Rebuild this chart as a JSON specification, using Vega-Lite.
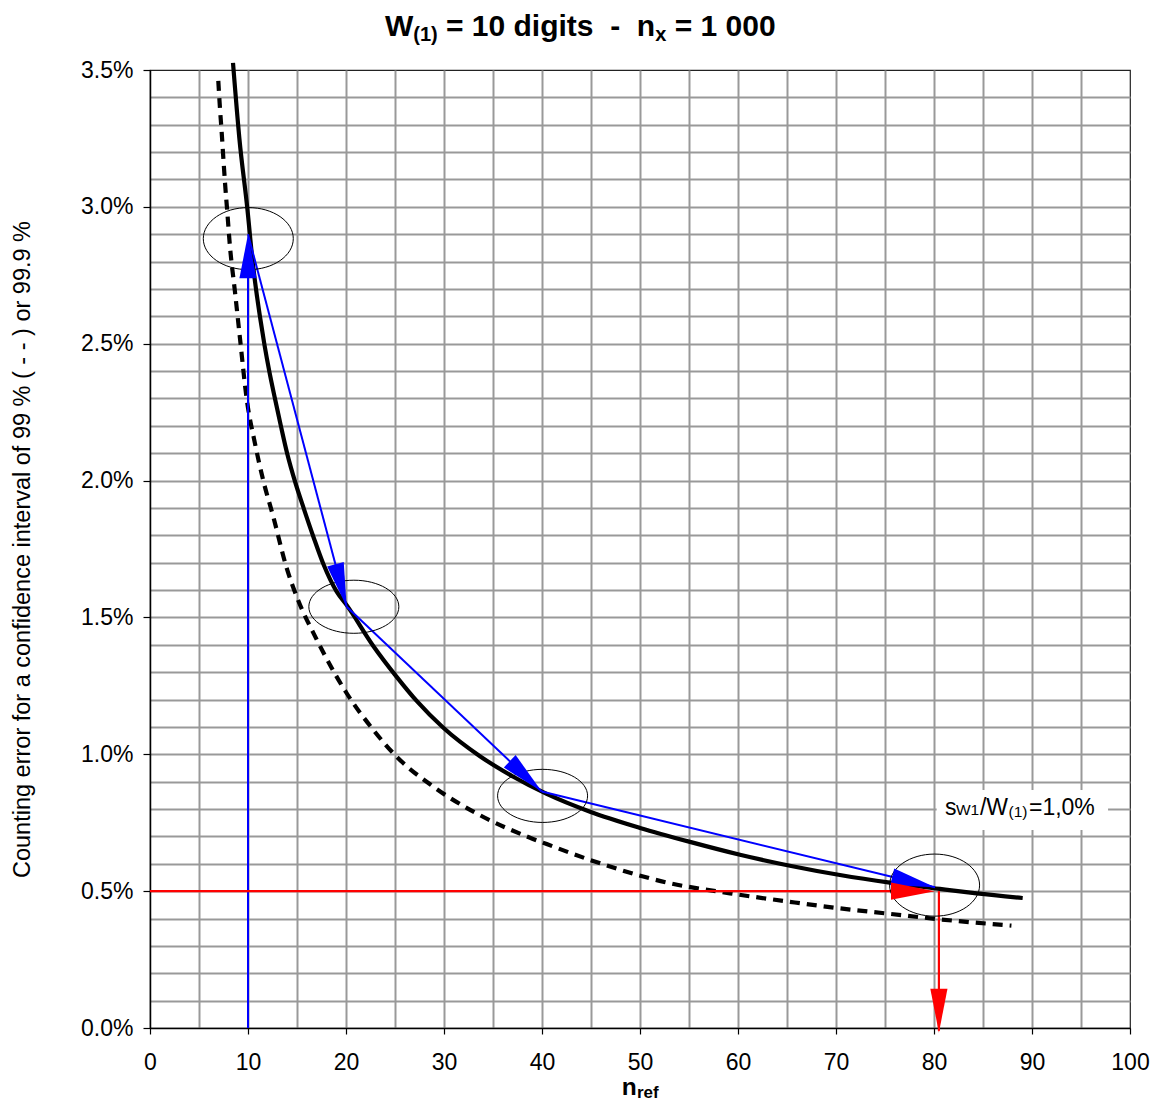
{
  "$schema": "https://vega.github.io/schema/vega-lite/v6.json",
  "width": 980,
  "height": 958,
  "autosize": {"type": "none"},
  "padding": {"left": 150, "top": 70, "right": 26, "bottom": 74},
  "background": "white",
  "config": {
    "font": "Liberation Sans",
    "view": {"stroke": "#222222", "strokeWidth": 1.2},
    "axis": {"labelColor": "black", "titleColor": "black", "domainColor": "black", "domainWidth": 1.5, "tickColor": "black", "tickWidth": 1.2, "gridColor": "#999999", "gridWidth": 2}
  },
  "encoding": {
    "x": {
      "field": "x", "type": "quantitative",
      "scale": {"domain": [0, 100], "nice": false},
      "axis": {
        "title": null,
        "values": [0,5,10,15,20,25,30,35,40,45,50,55,60,65,70,75,80,85,90,95,100],
        "labelExpr": "datum.value % 10 == 0 ? datum.label : ''",
        "grid": true,
        "gridOpacity": {"condition": {"test": "datum.value == 0 || datum.value == 100", "value": 0}, "value": 1},
        "tickOpacity": {"condition": {"test": "datum.value % 10 == 0", "value": 1}, "value": 0},
        "tickSize": 6,
        "labelFontSize": 23,
        "labelPadding": 17,
        "labelFlush": false
      }
    },
    "y": {
      "field": "y", "type": "quantitative",
      "scale": {"domain": [0, 0.035], "nice": false},
      "axis": {
        "title": "Counting error for a confidence interval of 99 % ( - - ) or 99.9 %",
        "titleFontSize": 23.5,
        "titleFontWeight": "normal",
        "titlePadding": 46,
        "values": [0,0.001,0.002,0.003,0.004,0.005,0.006,0.007,0.008,0.009,0.01,0.011,0.012,0.013,0.014,0.015,0.016,0.017,0.018,0.019,0.02,0.021,0.022,0.023,0.024,0.025,0.026,0.027,0.028,0.029,0.03,0.031,0.032,0.033,0.034,0.035],
        "format": ".1%",
        "labelExpr": "round(datum.value * 1000) % 5 == 0 ? datum.label : ''",
        "grid": true,
        "gridOpacity": {"condition": {"test": "datum.value == 0 || datum.value > 0.0349", "value": 0}, "value": 1},
        "tickOpacity": {"condition": {"test": "round(datum.value * 1000) % 5 == 0", "value": 1}, "value": 0},
        "tickSize": 7,
        "labelFontSize": 23,
        "labelPadding": 10,
        "labelFlush": false
      }
    }
  },
  "layer": [
    {
      "data": {"values": [{"x": 80.27, "x2": 97.76, "y": 0.008695, "y2": 0.007234}]},
      "mark": {"type": "rect", "color": "white", "opacity": 1},
      "encoding": {"x2": {"field": "x2"}, "y2": {"field": "y2"}}
    },
    {
      "data": {"values": [
        {"x": 8.47, "y": 0.03526}, {"x": 9.12, "y": 0.0325}, {"x": 9.93, "y": 0.02995}, {"x": 10.48, "y": 0.02797},
        {"x": 10.82, "y": 0.02699}, {"x": 11.22, "y": 0.02599}, {"x": 11.67, "y": 0.02498}, {"x": 12.18, "y": 0.02398},
        {"x": 12.76, "y": 0.02298}, {"x": 13.37, "y": 0.02197}, {"x": 14.01, "y": 0.02097}, {"x": 14.8, "y": 0.01996},
        {"x": 15.71, "y": 0.01896}, {"x": 16.67, "y": 0.01795}, {"x": 17.69, "y": 0.01695}, {"x": 19.05, "y": 0.01594},
        {"x": 20.07, "y": 0.01545}, {"x": 22.8, "y": 0.01395}, {"x": 25.17, "y": 0.01283}, {"x": 27.21, "y": 0.01195},
        {"x": 29.93, "y": 0.01097}, {"x": 33.67, "y": 0.00993}, {"x": 37.07, "y": 0.00918}, {"x": 40.48, "y": 0.00855},
        {"x": 44.9, "y": 0.0079}, {"x": 50, "y": 0.00731}, {"x": 55.1, "y": 0.0068}, {"x": 60.2, "y": 0.00633},
        {"x": 65.3, "y": 0.00593}, {"x": 70.4, "y": 0.00559}, {"x": 75.5, "y": 0.00531}, {"x": 80.6, "y": 0.00508},
        {"x": 84.35, "y": 0.00492}, {"x": 89.05, "y": 0.00475}
      ]},
      "mark": {"type": "line", "color": "black", "strokeWidth": 4.2, "interpolate": "monotone"}
    },
    {
      "data": {"values": [
        {"x": 6.97, "y": 0.0346}, {"x": 7.14, "y": 0.0336}, {"x": 7.31, "y": 0.03275}, {"x": 7.48, "y": 0.0318},
        {"x": 7.65, "y": 0.0309}, {"x": 7.89, "y": 0.0298}, {"x": 8.16, "y": 0.02855}, {"x": 8.67, "y": 0.0269},
        {"x": 9.18, "y": 0.0252}, {"x": 9.86, "y": 0.023}, {"x": 10.71, "y": 0.02136}, {"x": 11.56, "y": 0.02},
        {"x": 12.58, "y": 0.01868}, {"x": 13.95, "y": 0.0168}, {"x": 14.97, "y": 0.01576}, {"x": 17.0, "y": 0.0142},
        {"x": 20.07, "y": 0.01223}, {"x": 22.79, "y": 0.01089}, {"x": 25.17, "y": 0.00991}, {"x": 28.9, "y": 0.00882},
        {"x": 33.33, "y": 0.00784}, {"x": 38.78, "y": 0.00695}, {"x": 40.48, "y": 0.00672}, {"x": 44.9, "y": 0.00614},
        {"x": 53.06, "y": 0.00529}, {"x": 59.18, "y": 0.00492}, {"x": 65.3, "y": 0.00461}, {"x": 70.4, "y": 0.00437},
        {"x": 75.5, "y": 0.00417}, {"x": 80.6, "y": 0.00397}, {"x": 87.9, "y": 0.00374}
      ]},
      "mark": {"type": "line", "color": "black", "strokeWidth": 4.2, "strokeDash": [10, 7], "interpolate": "monotone"}
    },
    {
      "data": {"values": [
        {"x": 10, "y": 0, "x2": 10, "y2": 0.0287},
        {"x": 10, "y": 0.029, "x2": 20.07, "y2": 0.01539},
        {"x": 20.07, "y": 0.01539, "x2": 39.97, "y2": 0.00864},
        {"x": 39.97, "y": 0.00864, "x2": 80.1, "y2": 0.00514}
      ]},
      "mark": {"type": "rule", "color": "#0000ff", "strokeWidth": 2},
      "encoding": {"x2": {"field": "x2"}, "y2": {"field": "y2"}}
    },
    {
      "data": {"values": [
        {"x": 0, "y": 0.005, "x2": 79, "y2": 0.005},
        {"x": 80.5, "y": 0.005, "x2": 80.5, "y2": -0.0001}
      ]},
      "mark": {"type": "rule", "color": "#ff0000", "strokeWidth": 2.2},
      "encoding": {"x2": {"field": "x2"}, "y2": {"field": "y2"}}
    },
    {
      "data": {"values": [{"x": 10.03, "y": 0.02884}, {"x": 80.06, "y": 0.00522}]},
      "mark": {"type": "point", "shape": "M-1,0A1,0.69 0 1,0 1,0A1,0.69 0 1,0 -1,0Z", "size": 8100, "filled": false, "color": "black", "strokeWidth": 1, "opacity": 1}
    },
    {
      "data": {"values": [{"x": 20.8, "y": 0.01539}, {"x": 40.06, "y": 0.00848}]},
      "mark": {"type": "point", "shape": "M-1,0A1,0.59 0 1,0 1,0A1,0.59 0 1,0 -1,0Z", "size": 8100, "filled": false, "color": "black", "strokeWidth": 1, "opacity": 1}
    },
    {
      "data": {"values": [
        {"x": 10, "y": 0.029, "a": 0},
        {"x": 20.07, "y": 0.01539, "a": 165.2},
        {"x": 39.97, "y": 0.00864, "a": 133.4},
        {"x": 80.1, "y": 0.00514, "a": 103.7}
      ]},
      "mark": {"type": "point", "shape": "M0,0L0.39,2L-0.39,2Z", "size": 1936, "filled": true, "color": "#0000ff", "strokeWidth": 0, "opacity": 1},
      "encoding": {"angle": {"field": "a", "type": "quantitative", "scale": null}}
    },
    {
      "data": {"values": [
        {"x": 80.1, "y": 0.005, "a": 90},
        {"x": 80.5, "y": -0.00017, "a": 180}
      ]},
      "mark": {"type": "point", "shape": "M0,0L0.39,2L-0.39,2Z", "size": 1936, "filled": true, "color": "#ff0000", "strokeWidth": 0, "opacity": 1},
      "encoding": {"angle": {"field": "a", "type": "quantitative", "scale": null}}
    },
    {
      "data": {"values": [
        {"x": 23.98, "y": 0.036242, "t": "W"},
        {"x": 30.2, "y": 0.036242, "t": "= 10 digits\u00a0\u00a0-\u00a0\u00a0n"},
        {"x": 53.54, "y": 0.036242, "t": "= 1 000"}
      ]},
      "mark": {"type": "text", "align": "left", "baseline": "alphabetic", "fontSize": 30, "fontWeight": "bold", "color": "black"},
      "encoding": {"text": {"field": "t"}}
    },
    {
      "data": {"values": [
        {"x": 26.87, "y": 0.03606, "t": "(1)"},
        {"x": 51.56, "y": 0.03606, "t": "x"}
      ]},
      "mark": {"type": "text", "align": "left", "baseline": "alphabetic", "fontSize": 20, "fontWeight": "bold", "color": "black"},
      "encoding": {"text": {"field": "t"}}
    },
    {
      "data": {"values": [{"x": 48.13, "y": -0.00245, "t": "n"}]},
      "mark": {"type": "text", "align": "left", "baseline": "alphabetic", "fontSize": 24.5, "fontWeight": "bold", "color": "black"},
      "encoding": {"text": {"field": "t"}}
    },
    {
      "data": {"values": [{"x": 49.69, "y": -0.00256, "t": "ref"}]},
      "mark": {"type": "text", "align": "left", "baseline": "alphabetic", "fontSize": 17, "fontWeight": "bold", "color": "black"},
      "encoding": {"text": {"field": "t"}}
    },
    {
      "data": {"values": [
        {"x": 81.12, "y": 0.007782, "t": "s"},
        {"x": 84.69, "y": 0.007782, "t": "/W"},
        {"x": 89.69, "y": 0.007782, "t": "=1,0%"}
      ]},
      "mark": {"type": "text", "align": "left", "baseline": "alphabetic", "fontSize": 23, "color": "black"},
      "encoding": {"text": {"field": "t"}}
    },
    {
      "data": {"values": [
        {"x": 82.24, "y": 0.007782, "t": "W1"},
        {"x": 87.6, "y": 0.007698, "t": "(1)"}
      ]},
      "mark": {"type": "text", "align": "left", "baseline": "alphabetic", "fontSize": 15.5, "color": "black"},
      "encoding": {"text": {"field": "t"}}
    }
  ]
}
